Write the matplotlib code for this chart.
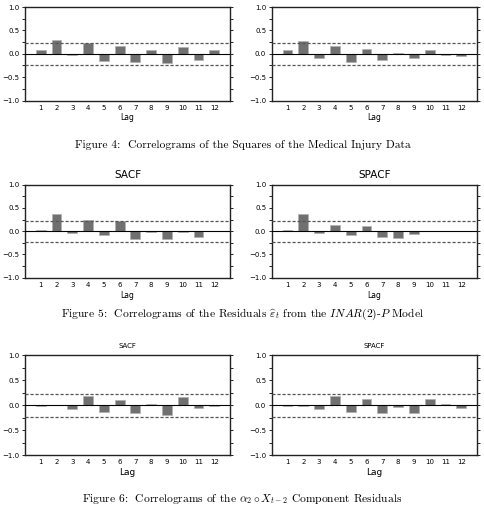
import numpy as np
import matplotlib
matplotlib.use("Agg")
import matplotlib.pyplot as plt

plt.rcParams['mathtext.fontset'] = 'cm'
plt.rcParams['axes.unicode_minus'] = True

lags = list(range(1, 13))

# Figure 4: squares of the medical injury data
sq_sacf = [0.09, 0.29, -0.03, 0.22, -0.15, 0.16, -0.18, 0.08, -0.20, 0.14, -0.13, 0.07]
sq_spacf = [0.09, 0.27, -0.09, 0.16, -0.17, 0.10, -0.14, 0.02, -0.10, 0.09, -0.02, -0.05]

# Figure 5: residuals from INAR(2)-P
res_sacf = [0.03, 0.38, -0.035, 0.24, -0.09, 0.21, -0.16, -0.02, -0.165, -0.01, -0.13, -0.005]
res_spacf = [0.03, 0.37, -0.04, 0.14, -0.09, 0.11, -0.13, -0.15, -0.06, -0.005, -0.005, -0.005]

# Figure 6: alpha2 o X_{t-2} component residuals
comp_sacf = [-0.005, 0.0, -0.065, 0.19, -0.13, 0.11, -0.15, 0.02, -0.19, 0.16, -0.05, -0.02]
comp_spacf = [-0.005, -0.005, -0.065, 0.19, -0.13, 0.12, -0.15, -0.03, -0.16, 0.12, 0.02, -0.06]

band = 0.23

yticks = np.arange(-1, 1.01, 0.25)
ylabels = [('%.1f' % v).replace('-', '\u2212') if abs(v * 2 - round(v * 2)) < 1e-9 else '' for v in yticks]

captions = [
    "Figure 4:  Correlograms of the Squares of the Medical Injury Data",
    r"Figure 5:  Correlograms of the Residuals $\widehat{\varepsilon}_t$ from the $INAR(2)$-$P$ Model",
    r"Figure 6:  Correlograms of the $\alpha_2 \circ X_{t-2}$ Component Residuals",
]

W, H = 485, 514
fig = plt.figure(figsize=(W / 100, H / 100), dpi=100)


def px_axes(x0, y0, x1, y1):
    return fig.add_axes([x0 / W, 1 - y1 / H, (x1 - x0) / W, (y1 - y0) / H])


def correlogram(ax, vals, title=None, tsize=6, lagsize=5.5):
    ax.bar(lags, vals, width=0.62, color='#707070', edgecolor='#b0b0b0', linewidth=0.5, zorder=2)
    ax.axhline(0, color='black', lw=0.8, zorder=3)
    ax.axhline(band, color='#555555', lw=0.9, ls=(0, (2.5, 1.5)), zorder=3)
    ax.axhline(-band, color='#555555', lw=0.9, ls=(0, (2.5, 1.5)), zorder=3)
    ax.set_xlim(0, 13)
    ax.set_ylim(-1, 1)
    ax.set_xticks(lags)
    ax.set_xticklabels([str(l) for l in lags], fontsize=5)
    ax.tick_params(axis='x', length=0, pad=3)
    ax.set_yticks(yticks)
    ax.set_yticklabels(ylabels, fontsize=5)
    ax.tick_params(axis='y', length=2, width=0.6, direction='out', right=True, pad=2)
    for s in ax.spines.values():
        s.set_linewidth(1.0)
        s.set_color('#222222')
    ax.set_xlabel('Lag', fontsize=lagsize, labelpad=2)
    if title:
        ax.set_title(title, fontsize=tsize, pad=5)


rows = [
    (7, 100.5, sq_sacf, sq_spacf, None, 6, 5.5),
    (184.7, 277.7, res_sacf, res_spacf, ('SACF', 'SPACF'), 7.5, 5.5),
    (355.3, 455.3, comp_sacf, comp_spacf, ('SACF', 'SPACF'), 5, 6.5),
]

for y0, y1, left, right, titles, tsize, lsize in rows:
    a1 = px_axes(25, y0, 230, y1)
    a2 = px_axes(271.7, y0, 477, y1)
    correlogram(a1, left, titles[0] if titles else None, tsize, lsize)
    correlogram(a2, right, titles[1] if titles else None, tsize, lsize)

for yc, cap in zip([145, 314, 499], captions):
    fig.text(0.5, 1 - yc / H, cap, ha='center', va='center', fontsize=8.3, family='cmr10')

fig.savefig('out.png', dpi=100)
